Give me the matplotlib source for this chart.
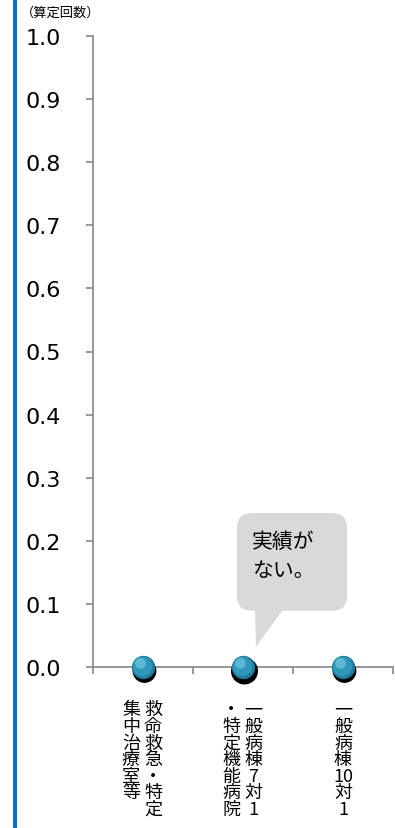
import numpy as np
import matplotlib.pyplot as plt
from matplotlib.patches import FancyBboxPatch, Polygon, Rectangle
from matplotlib import transforms

# データ
categories = [
    ["救\n命\n救\n急\n・\n特\n定", "集\n中\n治\n療\n室\n等"],
    ["一\n般\n病\n棟\n7\n対\n1", "・\n特\n定\n機\n能\n病\n院"],
    ["一\n般\n病\n棟\n10\n対\n1"],
]
values = [0, 0, 0]
yticks = [0.0, 0.1, 0.2, 0.3, 0.4, 0.5, 0.6, 0.7, 0.8, 0.9, 1.0]
ylabel = "（算定回数）"
callout = "実績が\nない。"

jp = ["Noto Sans CJK JP", "DejaVu Sans"]
gray = "#868686"

fig = plt.figure(figsize=(3.95, 8.29), dpi=100)
ax = fig.add_axes([93 / 395, 161 / 829, 300 / 395, 631 / 829])

# 左の青い線
fig.add_artist(Rectangle((13 / 395, 0), 4 / 395, 1, transform=fig.transFigure,
                         color="#0a70c6", lw=0))

x = np.arange(len(values))
ax.set_xlim(-0.5, 2.5)
ax.set_ylim(0, 1.0)

for s in ["top", "right"]:
    ax.spines[s].set_visible(False)
for s in ["left", "bottom"]:
    ax.spines[s].set_color(gray)
    ax.spines[s].set_linewidth(1.2)

ax.set_yticks(yticks)
ax.set_yticklabels([f"{v:.1f}" for v in yticks], fontsize=16, family="DejaVu Sans")
ax.tick_params(axis="y", length=5, color=gray, width=1.2, pad=18)
ax.set_xticks(np.arange(-0.5, 2.6, 1.0))
ax.set_xticklabels([])
ax.tick_params(axis="x", length=5, color=gray, width=1.2)

# 球っぽいマーカー
shadow = transforms.offset_copy(ax.transData, fig=fig, x=1.5, y=-4, units="dots")
ax.scatter(x, values, s=[260, 340, 260], color="black", transform=shadow, zorder=3, clip_on=False)
ax.scatter(x, values, s=250, color="#1f7b99", zorder=4, clip_on=False)
ax.scatter(x, values, s=170, color="#2f98ba", zorder=5, clip_on=False,
           transform=transforms.offset_copy(ax.transData, fig=fig, x=-1, y=1.5, units="dots"))
ax.scatter(x, values, s=45, color="#5fb8d3", zorder=6, clip_on=False,
           transform=transforms.offset_copy(ax.transData, fig=fig, x=-3, y=4, units="dots"))

# カテゴリラベル（縦書き）
tr = transforms.blended_transform_factory(ax.transData, ax.transAxes)
for i, cols in enumerate(categories):
    n = len(cols)
    for j, col in enumerate(cols):
        dx = 0 if n == 1 else (0.1 if j == 0 else -0.12)
        ax.text(i + dx, -0.053, col, transform=tr, ha="center", va="top",
                fontsize=13, family=jp, linespacing=0.9, multialignment="center")

# 単位
fig.text(21 / 395, 1 - 7 / 829, ylabel, fontsize=9.5, family=jp, ha="left", va="top")

# 吹き出し
box = FancyBboxPatch((0.94, 0.089), 1.1, 0.155, boxstyle="round,pad=0,rounding_size=0.15",
                     mutation_aspect=100 / 631, fc="#d9d9d9", ec="none", zorder=2)
ax.add_patch(box)
ax.add_patch(Polygon([[1.12, 0.091], [1.40, 0.091], [1.13, 0.032]], closed=True,
                     fc="#d9d9d9", ec="none", zorder=2))
ax.text(1.09, 0.177, callout, fontsize=15, family=jp, ha="left", va="center",
        linespacing=1.45, zorder=3)

fig.savefig("out.png", dpi=100)
